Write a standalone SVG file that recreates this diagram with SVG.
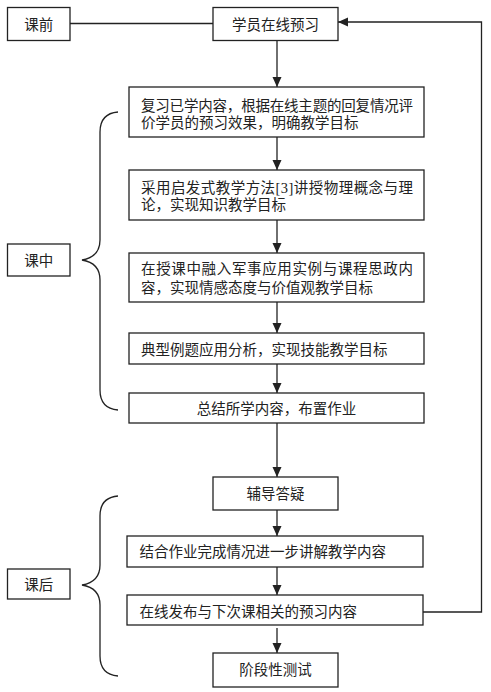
<svg xmlns="http://www.w3.org/2000/svg" width="491" height="692" viewBox="0 0 491 692">
<style>
.box{fill:#fff;stroke:#222;stroke-width:1.3}
.t{font-family:"Liberation Serif","Noto Sans CJK SC",serif;font-size:14.5px;fill:#222}
.c{text-anchor:middle}
.ln{fill:none;stroke:#222;stroke-width:1.3}
</style>
<defs>
<marker id="ah" markerUnits="userSpaceOnUse" markerWidth="10" markerHeight="10" refX="10" refY="4.5" orient="auto">
<path d="M0,0 L10,4.5 L0,9 z" fill="#222"/>
</marker>
</defs>
<rect width="491" height="692" fill="#fff"/>
<g id="connectors">
<line class="ln" x1="70" y1="23.5" x2="213" y2="23.5"/>
<line class="ln" x1="277" y1="40.5" x2="277" y2="87" marker-end="url(#ah)"/>
<line class="ln" x1="277" y1="137" x2="277" y2="170" marker-end="url(#ah)"/>
<line class="ln" x1="277" y1="220" x2="277" y2="253" marker-end="url(#ah)"/>
<line class="ln" x1="277" y1="302" x2="277" y2="333" marker-end="url(#ah)"/>
<line class="ln" x1="277" y1="364" x2="277" y2="393" marker-end="url(#ah)"/>
<line class="ln" x1="277" y1="423" x2="277" y2="477" marker-end="url(#ah)"/>
<line class="ln" x1="277" y1="510" x2="277" y2="536" marker-end="url(#ah)"/>
<line class="ln" x1="277" y1="567" x2="277" y2="595" marker-end="url(#ah)"/>
<line class="ln" x1="277" y1="628" x2="277" y2="653" marker-end="url(#ah)"/>
<polyline class="ln" points="423,612 481.5,612 481.5,22 338,22" marker-end="url(#ah)"/>
<path class="ln" d="M118,112 C106,113 100,120 100,132 L100,240 C100,252 94,258 82,260 C94,262 100,268 100,280 L100,390 C100,402 106,409 118,410"/>
<path class="ln" d="M118,496 C106,497 100,504 100,516 L100,565 C100,577 94,583 82,585 C94,587 100,593 100,605 L100,656 C100,668 106,675 118,676"/>
</g>
<g id="n-kq"><rect class="box" x="7.5" y="7.5" width="62.5" height="33"/><text class="t c" x="38.75" y="29.5">课前</text></g>
<g id="n-yx"><rect class="box" x="213" y="7.5" width="125" height="33"/><text class="t c" x="275.5" y="29.5">学员在线预习</text></g>
<g id="n-fx"><rect class="box" x="129" y="87" width="295" height="50"/>
<text class="t" x="141" y="110.5" textLength="272" lengthAdjust="spacing">复习已学内容，根据在线主题的回复情况评</text>
<text class="t" x="141" y="127.5">价学员的预习效果，明确教学目标</text></g>
<g id="n-qf"><rect class="box" x="129" y="170" width="295" height="50"/>
<text class="t" x="141" y="192.5" textLength="272" lengthAdjust="spacing">采用启发式教学方法[3]讲授物理概念与理</text>
<text class="t" x="141" y="209.5">论，实现知识教学目标</text></g>
<g id="n-jq"><rect class="box" x="129" y="253" width="295" height="49"/>
<text class="t" x="141" y="273.5" textLength="272" lengthAdjust="spacing">在授课中融入军事应用实例与课程思政内</text>
<text class="t" x="141" y="292.5">容，实现情感态度与价值观教学目标</text></g>
<g id="n-lt"><rect class="box" x="129" y="333" width="295" height="31"/>
<text class="t" x="141" y="354.5">典型例题应用分析，实现技能教学目标</text></g>
<g id="n-zj"><rect class="box" x="129" y="393" width="295" height="30"/>
<text class="t c" x="276.5" y="413.5">总结所学内容，布置作业</text></g>
<g id="n-kz"><rect class="box" x="7.5" y="244" width="62.5" height="32"/><text class="t c" x="38.75" y="265.5">课中</text></g>
<g id="n-fd"><rect class="box" x="213" y="477" width="125" height="33"/><text class="t c" x="275.5" y="499">辅导答疑</text></g>
<g id="n-jh"><rect class="box" x="127" y="536" width="296" height="31"/>
<text class="t" x="139.5" y="557">结合作业完成情况进一步讲解教学内容</text></g>
<g id="n-fb"><rect class="box" x="127" y="595" width="296" height="30"/>
<text class="t" x="139.5" y="616.5">在线发布与下次课相关的预习内容</text></g>
<g id="n-cs"><rect class="box" x="213" y="653" width="125" height="34"/><text class="t c" x="275.5" y="675">阶段性测试</text></g>
<g id="n-kh"><rect class="box" x="7.5" y="569" width="62.5" height="30"/><text class="t c" x="38.75" y="589.5">课后</text></g>
</svg>
